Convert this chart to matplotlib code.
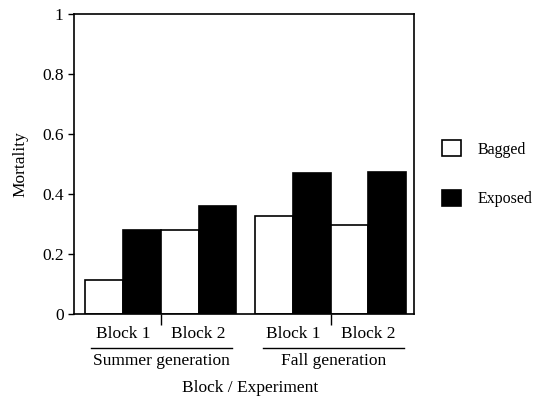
import matplotlib.pyplot as plt
from matplotlib.patches import Patch
from matplotlib.lines import Line2D

plt.rcParams['font.family'] = ['Liberation Serif', 'DejaVu Serif']

# Values
blocks = ["Block 1", "Block 2", "Block 1", "Block 2"]
generations = ["Summer generation", "Fall generation"]
bagged = [0.113, 0.281, 0.326, 0.296]
exposed = [0.279, 0.360, 0.471, 0.474]

# block centres in bar-width units, small gap between the two generations
centers = [1.3, 3.3, 5.8, 7.8]

fig = plt.figure(figsize=(5.36, 3.99), dpi=100)
ax = fig.add_axes([0.138, 0.213, 0.634, 0.752])

for c, b, e in zip(centers, bagged, exposed):
    ax.bar(c - 0.5, b, width=1.0, color="white", edgecolor="black", linewidth=1.2)
    ax.bar(c + 0.5, e, width=1.0, color="black", edgecolor="black", linewidth=1.2)

ax.set_xlim(0, 9)
ax.set_ylim(0, 1)
ax.set_yticks([0, 0.2, 0.4, 0.6, 0.8, 1])
ax.set_yticklabels(["0", "0.2", "0.4", "0.6", "0.8", "1"], fontsize=12.5)
ax.tick_params(axis="y", direction="out", length=4, width=1)

# ticks between the blocks of each generation
ax.set_xticks([2.3, 6.8])
ax.set_xticklabels([])
ax.tick_params(axis="x", direction="out", length=8, width=1)

for sp in ax.spines.values():
    sp.set_linewidth(1.2)

trans = ax.get_xaxis_transform()
for c, lab in zip(centers, blocks):
    ax.text(c, -0.065, lab, transform=trans, ha="center", va="center", fontsize=12.5)

group_spans = [(0.45, 4.18), (5.0, 8.73)]
for (x0, x1), g in zip(group_spans, generations):
    ax.add_line(Line2D([x0, x1], [-0.113, -0.113], transform=trans,
                       color="black", linewidth=1, clip_on=False))
    ax.text((x0 + x1) / 2, -0.157, g, transform=trans, ha="center", va="center",
            fontsize=12.5)

fig.text(0.466, 0.028, "Block / Experiment", ha="center", va="center", fontsize=12.5)
ax.set_ylabel("Mortality", fontsize=12.5, labelpad=10)

handles = [Patch(facecolor="white", edgecolor="black", linewidth=1.2),
           Patch(facecolor="black", edgecolor="black", linewidth=1.2)]
fig.legend(handles, ["Bagged", "Exposed"], loc="center left",
           bbox_to_anchor=(0.798, 0.565), frameon=False, fontsize=11.5,
           handlelength=1.2, handleheight=1.2, labelspacing=2.0, handletextpad=1.0)

fig.savefig("out.png", dpi=100)
